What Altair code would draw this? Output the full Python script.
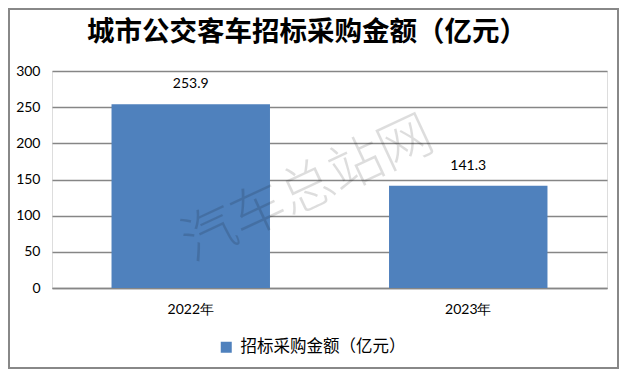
import altair as alt
import pandas as pd

years = ["2022年", "2023年"]
amounts = [253.9, 141.3]
series_name = "招标采购金额（亿元）"
title_text = "城市公交客车招标采购金额（亿元）"
watermark_text = "汽车总站网"
y_ticks = [0, 50, 100, 150, 200, 250, 300]

df = pd.DataFrame({"year": years, "amount": amounts, "series": [series_name] * len(years)})

W, H = 555, 217
PAD_L, PAD_T = 44, 63
TOTAL_W, TOTAL_H = 611, 361
GRID = "#868686"
BAR = "#4F81BD"
NUM_FONT = "Lato"
CJK_FONT = "Noto Sans CJK SC"

base = alt.Chart(df)

x_enc = alt.X(
    "year:N",
    sort=years,
    scale=alt.Scale(paddingInner=0.429, paddingOuter=0.2145),
    axis=alt.Axis(
        title=None, labelAngle=0, ticks=False, domain=True, domainColor=GRID,
        domainWidth=1.5, labelFont=NUM_FONT, labelFontSize=14, labelColor="#000000",
        labelPadding=14, grid=False,
    ),
)
y_enc = alt.Y(
    "amount:Q",
    scale=alt.Scale(domain=[0, 300], nice=False),
    axis=alt.Axis(
        title=None, values=y_ticks, ticks=False, domain=False, grid=True,
        gridColor=GRID, gridWidth=1.5, labelFont=NUM_FONT, labelFontSize=14,
        labelColor="#000000", labelPadding=12, labelOverlap=False,
    ),
)

bars = base.mark_bar().encode(
    x=x_enc,
    y=y_enc,
    color=alt.Color(
        "series:N",
        scale=alt.Scale(range=[BAR]),
        legend=alt.Legend(
            title=None, orient="none", legendX=166, legendY=268, symbolType="square",
            symbolSize=121, symbolStrokeWidth=0, labelFont=CJK_FONT, labelFontSize=16.5,
            labelColor="#000000", labelOffset=6, padding=0, labelLimit=0,
        ),
    ),
)

labels = base.mark_text(dy=-20, baseline="middle", font=NUM_FONT, fontSize=14, color="#000000").encode(
    x=x_enc,
    y=y_enc,
    text=alt.Text("amount:Q", format=".1f"),
)

title = alt.Chart(pd.DataFrame({"t": [title_text]})).mark_text(
    font=CJK_FONT, fontSize=27.5, fontWeight="bold", color="#000000",
    align="center", baseline="middle",
).encode(x=alt.value(255), y=alt.value(-38), text="t:N")

watermark = alt.Chart(pd.DataFrame({"t": [watermark_text]})).mark_text(
    font=CJK_FONT, fontSize=54, fontWeight=300, color="#000000", opacity=0.13,
    angle=335, align="center", baseline="middle",
).encode(x=alt.value(256), y=alt.value(119), text="t:N")

border = alt.Chart(pd.DataFrame({"a": [0]})).mark_rect(
    fill=None, stroke="#888888", strokeWidth=2,
).encode(
    x=alt.value(-PAD_L + 1), x2=alt.value(TOTAL_W - PAD_L - 1),
    y=alt.value(-PAD_T + 1), y2=alt.value(TOTAL_H - PAD_T - 1),
)

chart = alt.layer(bars, labels, watermark, title, border).properties(
    width=W,
    height=H,
    autosize=alt.AutoSizeParams(type="none"),
    padding={"left": PAD_L, "top": PAD_T, "right": TOTAL_W - PAD_L - W, "bottom": TOTAL_H - PAD_T - H},
).configure_view(stroke=None).configure(background="white")

chart.save("out.html", embed_options={"renderer": "svg", "actions": False})
